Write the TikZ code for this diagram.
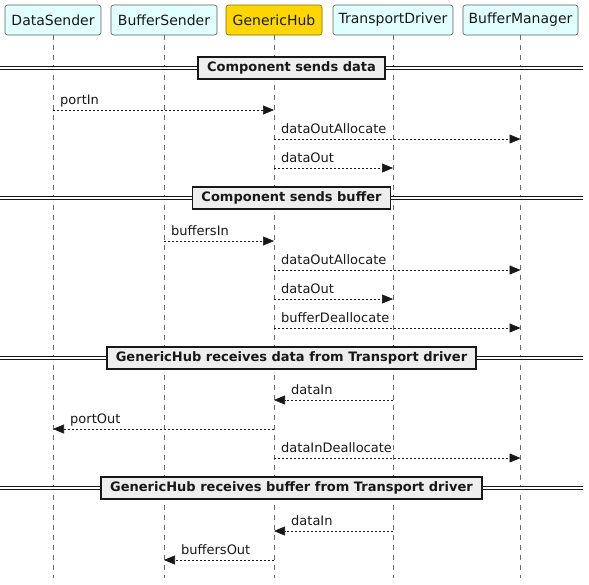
\documentclass[tikz,border=0pt]{standalone}
\usepackage{fontspec}
\setmainfont{DejaVu Sans}
\usetikzlibrary{arrows.meta}
\definecolor{partfill}{HTML}{E2FFFF}
\definecolor{partline}{HTML}{5B5B5B}
\definecolor{hubfill}{HTML}{FFD700}
\definecolor{hubline}{HTML}{7A6A00}
\definecolor{ink}{HTML}{181818}
\definecolor{divfill}{HTML}{EEEEEE}
\definecolor{lifeline}{HTML}{6B6B6B}
\tikzset{
  part/.style={draw=partline, fill=partfill, rounded corners=2.5pt, line width=0.6pt,
    minimum height=30pt, inner sep=0pt, font=\fontsize{14}{16}\selectfont, text=ink},
  life/.style={draw=lifeline, line width=0.5pt, dash pattern=on 5pt off 5pt},
  msg/.style={draw=ink, line width=0.6pt, dash pattern=on 2pt off 2pt,
    -{Triangle[length=11pt,width=9pt]}},
  mlabel/.style={font=\fontsize{13}{15}\selectfont, text=ink, inner sep=0pt, anchor=base west},
  divbox/.style={draw=ink, fill=divfill, line width=1.5pt, inner xsep=9pt,
    minimum height=22pt, font=\bfseries\fontsize{13}{15}\selectfont, text=ink},
  divline/.style={draw=ink, line width=0.8pt, double=white, double distance=2pt}
}
\begin{document}
\begin{tikzpicture}[x=1pt,y=-1pt]
\useasboundingbox (0,0) rectangle (589,584);
% participants
\node[part, minimum width=96pt] (ds) at (53,20) {DataSender};
\node[part, minimum width=106pt] (bs) at (164,20) {BufferSender};
\node[part, minimum width=96pt, fill=hubfill, draw=hubline] (gh) at (274,20) {GenericHub};
\node[part, minimum width=120pt] (td) at (393,20) {TransportDriver};
\node[part, minimum width=115pt] (bm) at (520.5,20) {BufferManager};
% lifeline bottoms
\coordinate (dsE) at (53,578);
\coordinate (bsE) at (164,578);
\coordinate (ghE) at (274,578);
\coordinate (tdE) at (393,578);
\coordinate (bmE) at (520.5,578);
\draw[life] (ds.south) -- (dsE);
\draw[life] (bs.south) -- (bsE);
\draw[life] (gh.south) -- (ghE);
\draw[life] (td.south) -- (tdE);
\draw[life] (bm.south) -- (bmE);
% dividers
\foreach \yy/\nm/\tx in {68/d1/Component sends data, 198/d2/Component sends buffer,
  358/d3/GenericHub receives data from Transport driver,
  488/d4/GenericHub receives buffer from Transport driver}{
  \coordinate (\nm L) at (0,\yy);
  \coordinate (\nm R) at (583,\yy);
  \draw[divline] (\nm L) -- (\nm R);
  \node[divbox] (\nm) at (291.5,\yy) {\tx};
}
% message anchor coordinates
\foreach \nm/\xx in {ds/53, bs/164, gh/274, td/393, bm/520.5}{
  \foreach \yy in {110,139,168,241,270,299,328,400,429,458,531,560}{
    \coordinate (\nm-\yy) at (\xx,\yy);
  }
}
% Component sends data
\draw[msg] (ds-110) -- (gh-110);
\node[mlabel] (l1) at (60,104) {portIn};
\draw[msg] (gh-139) -- (bm-139);
\node[mlabel] (l2) at (281,133) {dataOutAllocate};
\draw[msg] (gh-168) -- (td-168);
\node[mlabel] (l3) at (281,162) {dataOut};
% Component sends buffer
\draw[msg] (bs-241) -- (gh-241);
\node[mlabel] (l4) at (171,235) {buffersIn};
\draw[msg] (gh-270) -- (bm-270);
\node[mlabel] (l5) at (281,264) {dataOutAllocate};
\draw[msg] (gh-299) -- (td-299);
\node[mlabel] (l6) at (281,293) {dataOut};
\draw[msg] (gh-328) -- (bm-328);
\node[mlabel] (l7) at (281,322) {bufferDeallocate};
% GenericHub receives data
\draw[msg] (td-400) -- (gh-400);
\node[mlabel] (l8) at (291,394) {dataIn};
\draw[msg] (gh-429) -- (ds-429);
\node[mlabel] (l9) at (70,423) {portOut};
\draw[msg] (gh-458) -- (bm-458);
\node[mlabel] (l10) at (281,452) {dataInDeallocate};
% GenericHub receives buffer
\draw[msg] (td-531) -- (gh-531);
\node[mlabel] (l11) at (291,525) {dataIn};
\draw[msg] (gh-560) -- (bs-560);
\node[mlabel] (l12) at (181,554) {buffersOut};
\end{tikzpicture}
\end{document}
